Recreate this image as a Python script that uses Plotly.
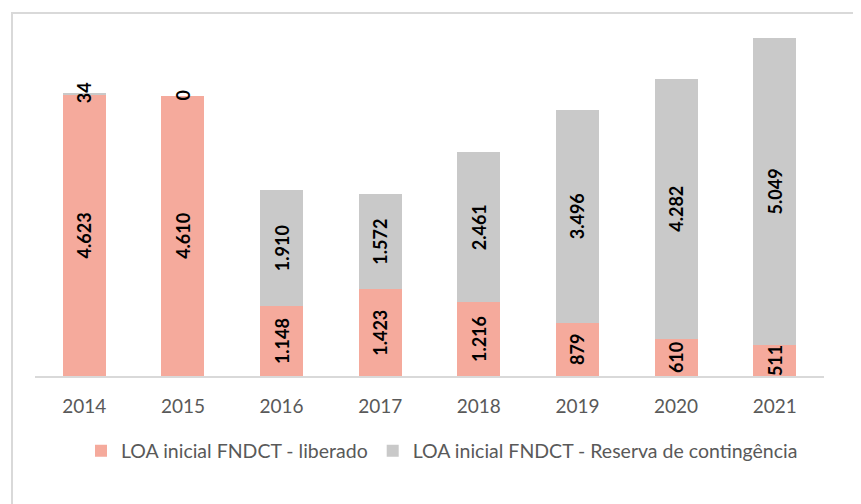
import plotly.graph_objects as go

years = ["2014", "2015", "2016", "2017", "2018", "2019", "2020", "2021"]
liberado = [4623, 4610, 1148, 1423, 1216, 879, 610, 511]
reserva = [34, 0, 1910, 1572, 2461, 3496, 4282, 5049]
series_names = ["LOA inicial FNDCT - liberado", "LOA inicial FNDCT - Reserva de contingência"]

def fmt(v):
    return f"{v:,}".replace(",", ".")

# the page body adds an 8px offset; size the figure so it fills the window
OFF = 8
W, H = 861 - OFF, 504 - OFF
ml, mr, mt, mb = 27, 37, 22, 128
pw, ph = W - ml - mr, H - mt - mb

def px_x(p):  # screen px -> paper
    return (p - OFF - ml) / pw

def px_y(p):
    return (H - mb - (p - OFF)) / ph

FONT = "Lato, 'Open Sans', sans-serif"
small = [r < 300 for r in reserva]

fig = go.Figure()
fig.add_trace(go.Bar(
    x=years, y=liberado, name=series_names[0],
    marker=dict(color="#F5AA9C", line=dict(width=0)),
    text=[fmt(v) for v in liberado], textposition="inside",
    insidetextanchor="middle", textangle=-90, constraintext="none",
    textfont=dict(family=FONT, size=18, color="#000000", weight="bold"),
))
fig.add_trace(go.Bar(
    x=years, y=reserva, name=series_names[1],
    marker=dict(color="#C9C9C9", line=dict(width=0)),
    text=["" if s else fmt(v) for v, s in zip(reserva, small)], textposition="inside",
    insidetextanchor="middle", textangle=-90, constraintext="none",
    textfont=dict(family=FONT, size=18, color="#000000", weight="bold"),
))

for i, (l, r, s) in enumerate(zip(liberado, reserva, small)):
    if s:
        fig.add_annotation(x=i, y=l + r, text=f"<b>{fmt(r)}</b>", showarrow=False,
                           textangle=-90, xanchor="center", yanchor="middle",
                           font=dict(family=FONT, size=18, color="#000000"))

fig.add_shape(type="rect", xref="paper", yref="paper",
              x0=px_x(12), x1=px_x(900), y0=px_y(540), y1=px_y(13),
              line=dict(color="#D9D9D9", width=2), fillcolor="rgba(0,0,0,0)", layer="below")

fig.update_layout(
    width=W, height=H,
    margin=dict(l=ml, r=mr, t=mt, b=mb),
    barmode="stack", bargap=0.565,
    paper_bgcolor="white", plot_bgcolor="white",
    font=dict(family=FONT, color="#595959"),
    xaxis=dict(type="category", range=[-0.5, len(years) - 0.5], showline=True,
               linecolor="#D9D9D9", linewidth=1.5, ticks="", ticklabelstandoff=12,
               tickfont=dict(size=19, color="#595959"), showgrid=False),
    yaxis=dict(visible=False, range=[0, 5690], showgrid=False),
    legend=dict(orientation="h", x=px_x(442), xanchor="center", y=px_y(451), yanchor="middle",
                font=dict(size=19.5, color="#595959"), traceorder="normal"),
    showlegend=True,
)

fig.write_html("out.html")
